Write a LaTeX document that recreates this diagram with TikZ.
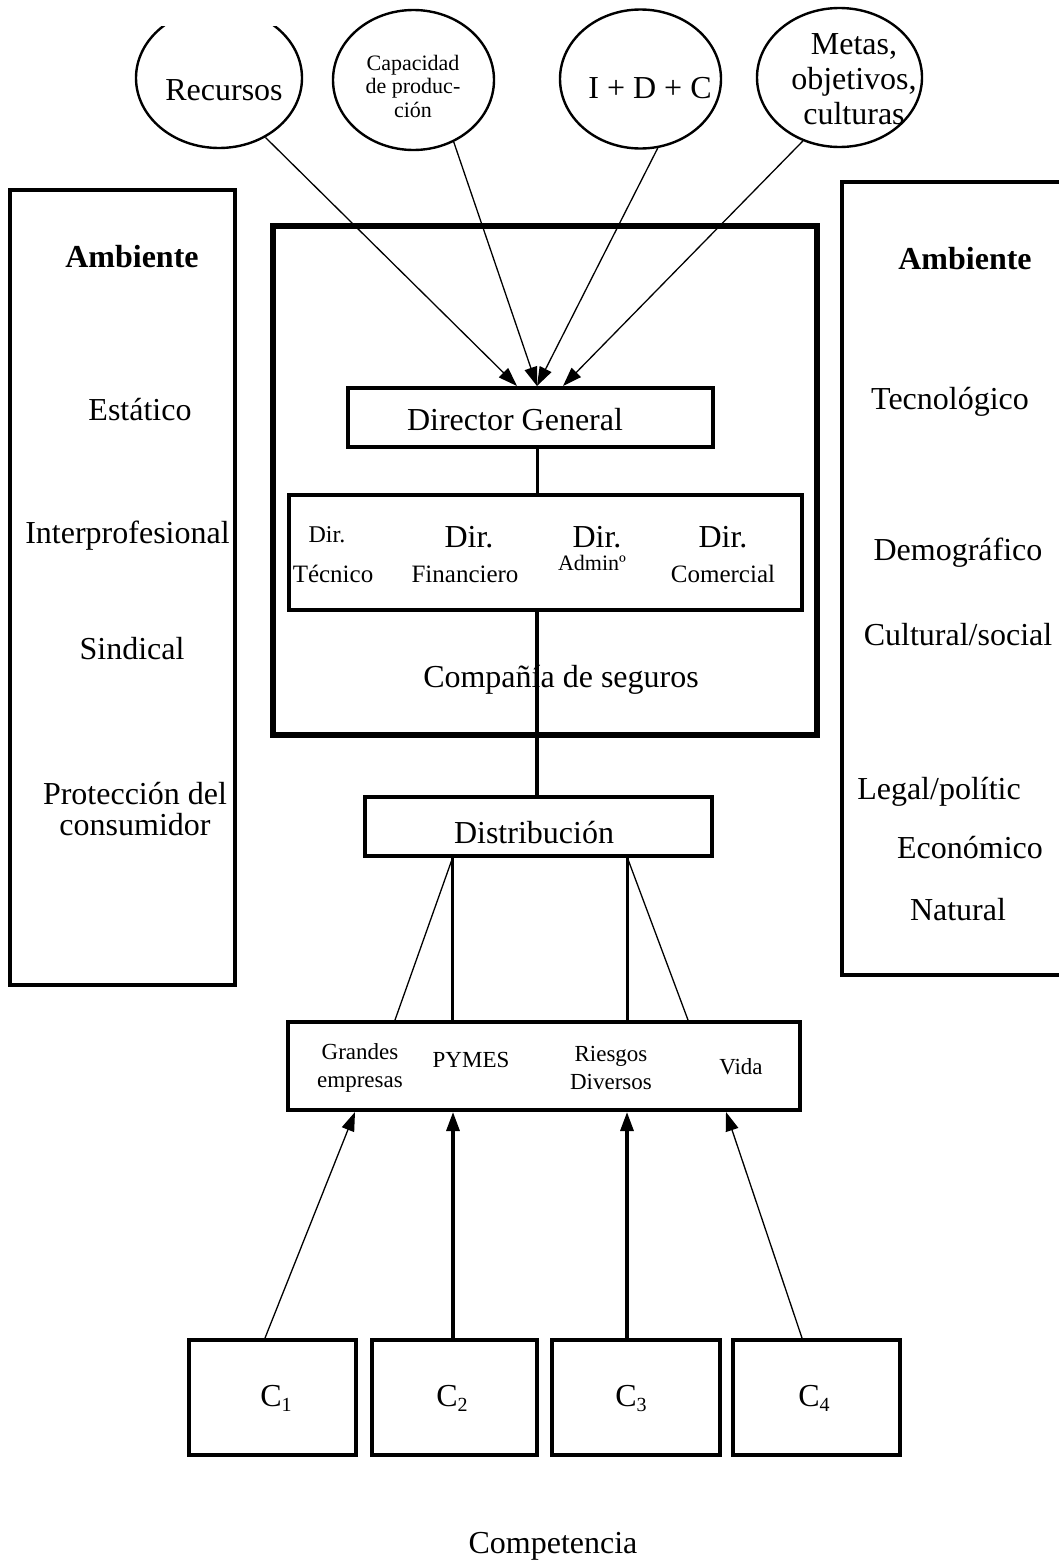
\documentclass[tikz,border=0pt]{standalone}
\usepackage{fontspec}
\setmainfont{Liberation Serif}
\usetikzlibrary{shapes.geometric,arrows.meta}
\begin{document}
\begin{tikzpicture}[x=1pt,y=-1pt,
  bubble/.style={ellipse,draw,line width=2.4pt,inner sep=0pt},
  box/.style={draw,line width=4pt,inner sep=0pt},
  txt/.style={inner sep=0pt,align=center,font=\fontsize{32}{35}\selectfont},
  midtxt/.style={inner sep=0pt,align=center,font=\fontsize{25}{28}\selectfont},
  segtxt/.style={inner sep=0pt,align=center,font=\fontsize{23}{28}\selectfont},
  thinline/.style={line width=1.3pt},
  stem/.style={line width=3.2pt},
  head/.style={-{Triangle[length=19pt,width=13pt]}},
]
\useasboundingbox (0,0) rectangle (1058,1566);

% inputs at the top
\node[bubble,minimum width=166pt,minimum height=140pt] (rec) at (219,78) {};
\fill[white] (160,-2) rectangle (280,26);
\node[bubble,minimum width=161pt,minimum height=140pt] (cap) at (413.5,80) {};
\node[bubble,minimum width=161pt,minimum height=139pt] (idc) at (640.5,79) {};
\node[bubble,minimum width=165pt,minimum height=139pt] (met) at (839.5,77.5) {};
\node[txt] (recT) at (224,90) {Recursos};
\node[inner sep=0pt,align=center,font=\fontsize{22}{23.5}\selectfont] (capT) at (413,86) {Capacidad\\de produc-\\ción};
\node[txt] (idcT) at (650,88) {I + D + C};
\node[txt] (metT) at (854,79) {Metas,\\objetivos,\\culturas};

% environment panels
\node[box,minimum width=225pt,minimum height=795pt] (envL) at (122.5,587.5) {};
\node[box,minimum width=230pt,minimum height=793pt] (envR) at (957,578.5) {};
\node[txt,font=\fontsize{32}{35}\selectfont\bfseries] (envLh) at (132,257) {Ambiente};
\node[txt] (eL1) at (140,410) {Estático};
\node[txt] (eL2) at (127.5,536) {Interprofesional};
\node[txt] (eL3) at (132,649) {Sindical};
\node[txt,font=\fontsize{32}{31}\selectfont] (eL4) at (135,809) {Protección del\\consumidor};
\node[txt,font=\fontsize{32}{35}\selectfont\bfseries] (envRh) at (965,259) {Ambiente};
\node[txt] (eR1) at (950,402) {Tecnológico};
\node[txt] (eR2) at (958,553) {Demográfico};
\node[txt] (eR3) at (958,635) {Cultural/social};
\node[txt] (eR4) at (939,792) {Legal/polític};
\node[txt] (eR5) at (970,848) {Económico};
\node[txt] (eR6) at (958,910) {Natural};

% the company
\node[box,line width=6.5pt,minimum width=544pt,minimum height=509pt] (comp) at (545,480.5) {};
\node[box,minimum width=365pt,minimum height=59pt] (dg) at (530.5,417.5) {};
\node[txt] (dgT) at (515,420) {Director General};
\node[box,minimum width=513pt,minimum height=115pt] (dirs) at (545.5,552.5) {};
\node[inner sep=0pt,font=\fontsize{24}{24}\selectfont] (d1a) at (327,535) {Dir.};
\node[midtxt] (d1b) at (333,574) {Técnico};
\node[txt] (d2a) at (469,537) {Dir.};
\node[midtxt] (d2b) at (465,574) {Financiero};
\node[txt] (d3a) at (597,537) {Dir.};
\node[inner sep=0pt,font=\fontsize{22}{24}\selectfont] (d3b) at (592,563) {Adminº};
\node[txt] (d4a) at (723,537) {Dir.};
\node[midtxt] (d4b) at (723,574) {Comercial};
\node[txt] (compT) at (561,680) {Compañía de seguros};

% distribution and segments
\node[box,minimum width=347pt,minimum height=59pt] (dist) at (538.5,826.5) {};
\node[txt] (distT) at (534,833) {Distribución};
\node[box,minimum width=512pt,minimum height=88pt] (seg) at (544,1066) {};
\node[segtxt] (s1) at (360,1068) {Grandes\\empresas};
\node[segtxt] (s2) at (471,1060) {PYMES};
\node[segtxt] (s3) at (611,1068) {Riesgos\\Diversos};
\node[segtxt] (s4) at (741,1067) {Vida};

% competitors
\node[box,minimum width=167pt,minimum height=115pt] (c1) at (272.5,1397.5) {};
\node[box,minimum width=165pt,minimum height=115pt] (c2) at (454.5,1397.5) {};
\node[box,minimum width=168pt,minimum height=115pt] (c3) at (636,1397.5) {};
\node[box,minimum width=167pt,minimum height=115pt] (c4) at (816.5,1397.5) {};
\node[txt] (c1T) at (276,1398) {C\raisebox{-5pt}{\fontsize{20}{20}\selectfont 1}};
\node[txt] (c2T) at (452,1398) {C\raisebox{-5pt}{\fontsize{20}{20}\selectfont 2}};
\node[txt] (c3T) at (631,1398) {C\raisebox{-5pt}{\fontsize{20}{20}\selectfont 3}};
\node[txt] (c4T) at (814,1398) {C\raisebox{-5pt}{\fontsize{20}{20}\selectfont 4}};
\node[txt] (compet) at (553,1546) {Competencia};

% inputs converging on the general manager
\draw[thinline,head] (rec.-52) -- ([xshift=-13.5pt]dg.north);
\draw[thinline,head] (cap.-57) -- ([xshift=6.5pt]dg.north);
\draw[thinline,head] (idc.-76) -- ([xshift=6.5pt]dg.north);
\draw[thinline,head] (met.-120) -- ([xshift=32.5pt]dg.north);

% hierarchy
\coordinate (g1) at ([xshift=7pt]dg.south);
\draw[stem] (g1) -- (g1 |- dirs.north);
\coordinate (g2) at ([xshift=-1.5pt]dist.north);
\draw[stem] (g2 |- dirs.south) -- (g2);

% distribution channels
\coordinate (dl) at ([xshift=-86pt]dist.south);
\coordinate (dr) at ([xshift=89pt]dist.south);
\draw[stem] (dl) -- (dl |- seg.north);
\draw[stem] (dr) -- (dr |- seg.north);
\draw[thinline] (dl) -- ([xshift=-149pt]seg.north);
\draw[thinline] (dr) -- ([xshift=144pt]seg.north);

% competitors acting on the segments
\draw[thinline,head] ([xshift=-7.5pt]c1.north) -- ([xshift=-189pt]seg.south);
\draw[stem,head] ([xshift=-1.5pt]c2.north) -- ([xshift=-1.5pt]c2.north |- seg.south);
\draw[stem,head] ([xshift=-9pt]c3.north) -- ([xshift=-9pt]c3.north |- seg.south);
\draw[thinline,head] ([xshift=-14.5pt]c4.north) -- ([xshift=182pt]seg.south);
\end{tikzpicture}
\end{document}
